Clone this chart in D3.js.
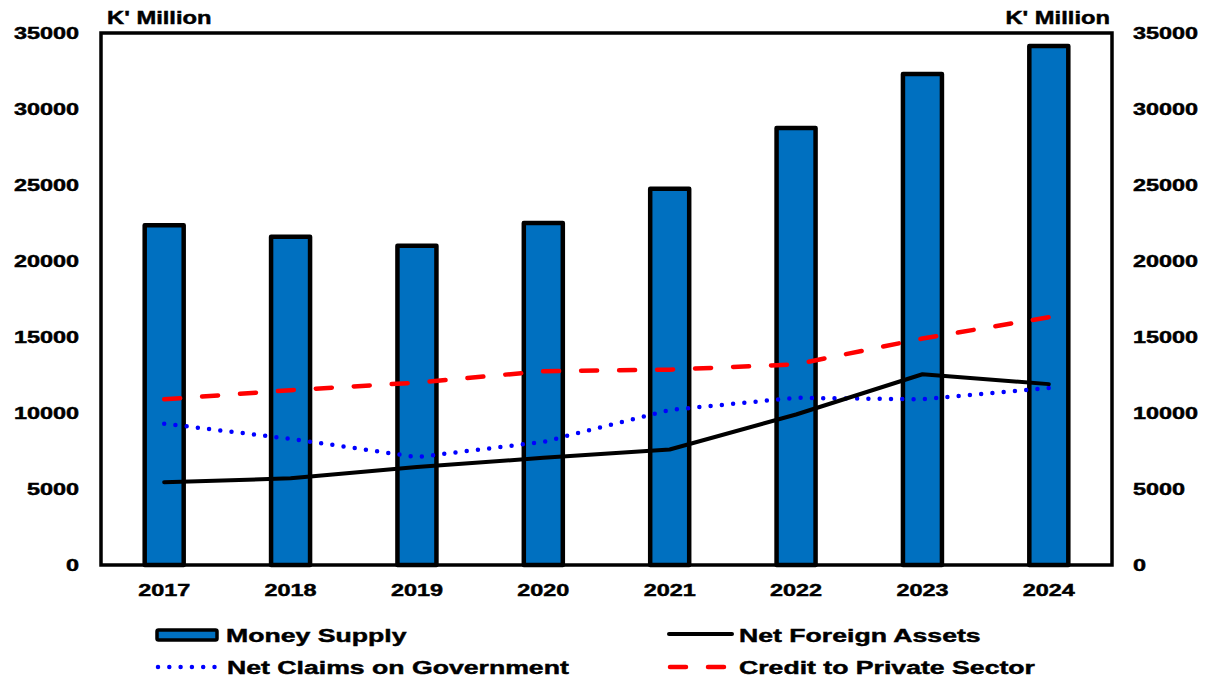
<!DOCTYPE html>
<html>
<head>
<meta charset="utf-8">
<script src="https://cdn.jsdelivr.net/npm/d3@7"></script>
<style>
  html, body { margin: 0; padding: 0; background: #fff; }
  svg { display: block; }
  text { font-family: "Liberation Sans", Arial, sans-serif; font-weight: bold; fill: #000; stroke: #000; stroke-width: 0.45px; }
</style>
</head>
<body>
<svg id="chart" width="1208" height="679"></svg>
<script>
// Monetary aggregates, K' Million
const years = ["2017", "2018", "2019", "2020", "2021", "2022", "2023", "2024"];
const moneySupply = [22500, 21750, 21150, 22650, 24900, 28900, 32450, 34300];
const netForeignAssets = [5450, 5700, 6450, 7050, 7600, 9900, 12550, 11900];
const netClaimsGov = [9300, 8300, 7100, 8100, 10200, 11000, 10900, 11650];
const creditPrivate = [10900, 11500, 12000, 12750, 12850, 13200, 14900, 16300];
const yTicks = [0, 5000, 10000, 15000, 20000, 25000, 30000, 35000];
const unitLabel = "K' Million";

const svg = d3.select("#chart");
const m = { left: 101, right: 1112, top: 33, bottom: 565 };
const SX = 1.42; // horizontal stretch of the label lettering

const x = d3.scaleBand().domain(years).range([m.left, m.right]).paddingInner(0).paddingOuter(0);
const y = d3.scaleLinear().domain([0, 35000]).range([m.bottom, m.top]);

// Bars
const barStroke = 4.5;
svg.append("g").selectAll("rect")
  .data(years.map((yr, i) => ({ yr, v: moneySupply[i] })))
  .join("rect")
  .attr("x", d => x(d.yr) + x.bandwidth() / 2 - 19.5)
  .attr("width", 39)
  .attr("y", d => y(d.v) + barStroke / 2)
  .attr("height", d => y(0) - y(d.v) - barStroke / 2)
  .attr("fill", "#0070C0")
  .attr("stroke", "#000")
  .attr("stroke-width", barStroke)
  .attr("stroke-linejoin", "round");

const cx = yr => x(yr) + x.bandwidth() / 2;
const lineGen = d3.line().x((d, i) => cx(years[i])).y(d => y(d));

// Lines
svg.append("path").datum(creditPrivate).attr("d", lineGen)
  .attr("fill", "none").attr("stroke", "#FF0000").attr("stroke-width", 4.5)
  .attr("stroke-dasharray", "16 22").attr("stroke-linecap", "round");
svg.append("path").datum(netClaimsGov).attr("d", lineGen)
  .attr("fill", "none").attr("stroke", "#0000FF").attr("stroke-width", 4.5)
  .attr("stroke-dasharray", "0 11.3").attr("stroke-linecap", "round");
svg.append("path").datum(netForeignAssets).attr("d", lineGen)
  .attr("fill", "none").attr("stroke", "#000").attr("stroke-width", 4)
  .attr("stroke-linecap", "round").attr("stroke-linejoin", "round");

// Plot frame
svg.append("rect")
  .attr("x", m.left).attr("y", m.top)
  .attr("width", m.right - m.left).attr("height", m.bottom - m.top)
  .attr("fill", "none").attr("stroke", "#000").attr("stroke-width", 3.5);

// Axes
function styleAxis(g, dx, anchor) {
  g.select(".domain").remove();
  g.selectAll(".tick line").remove();
  g.selectAll(".tick text")
    .attr("font-size", 16.5)
    .attr("text-anchor", anchor)
    .attr("x", dx / SX)
    .attr("dy", "0.36em")
    .attr("transform", `scale(${SX},1)`);
}
svg.append("g").attr("transform", `translate(${m.left},0)`)
  .call(d3.axisLeft(y).tickValues(yTicks).tickFormat(d3.format("d")))
  .call(g => styleAxis(g, -22, "end"));
svg.append("g").attr("transform", `translate(${m.right},0)`)
  .call(d3.axisRight(y).tickValues(yTicks).tickFormat(d3.format("d")))
  .call(g => styleAxis(g, 21, "start"));

const xa = svg.append("g").attr("transform", `translate(0,${m.bottom})`)
  .call(d3.axisBottom(x).tickSize(0));
xa.select(".domain").remove();
xa.selectAll(".tick text")
  .attr("font-size", 16.5)
  .attr("y", 0).attr("dy", 0)
  .attr("transform", `translate(0,31) scale(${SX},1)`);

// Generic stretched label
function label(tx, ty, str, size, sx, anchor) {
  svg.append("text")
    .attr("transform", `translate(${tx},${ty}) scale(${sx},1)`)
    .attr("font-size", size)
    .attr("text-anchor", anchor)
    .text(str);
}
label(107, 24, unitLabel, 18, 1.32, "start");
label(1110, 24, unitLabel, 18, 1.32, "end");

// Legend
const leg = svg.append("g");
leg.append("rect").attr("x", 157).attr("y", 630).attr("width", 60).attr("height", 10)
  .attr("fill", "#0070C0").attr("stroke", "#000").attr("stroke-width", 3.5).attr("rx", 1.5);
leg.append("line").attr("x1", 158).attr("x2", 218).attr("y1", 667).attr("y2", 667)
  .attr("stroke", "#0000FF").attr("stroke-width", 4.5)
  .attr("stroke-dasharray", "0 11.3").attr("stroke-linecap", "round");
leg.append("line").attr("x1", 669).attr("x2", 732).attr("y1", 634).attr("y2", 634)
  .attr("stroke", "#000").attr("stroke-width", 4).attr("stroke-linecap", "round");
leg.append("line").attr("x1", 670).attr("x2", 728).attr("y1", 667).attr("y2", 667)
  .attr("stroke", "#FF0000").attr("stroke-width", 4.5)
  .attr("stroke-dasharray", "16 22").attr("stroke-linecap", "round");

label(226, 642, "Money Supply", 18.5, 1.44, "start");
label(227, 674, "Net Claims on Government", 18.5, 1.44, "start");
label(739, 642, "Net Foreign Assets", 18.5, 1.44, "start");
label(739, 674, "Credit to Private Sector", 18.5, 1.44, "start");
</script>
</body>
</html>
